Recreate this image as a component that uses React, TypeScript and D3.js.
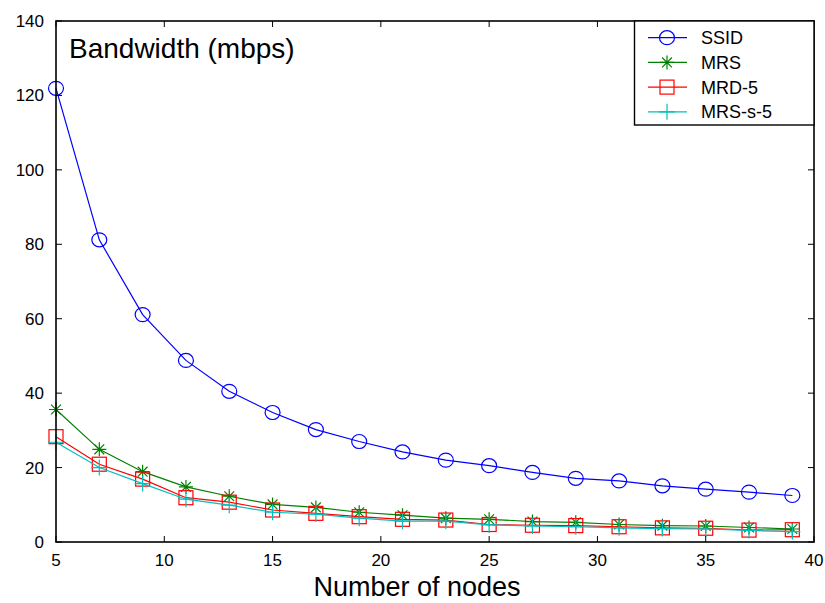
import React, { useEffect, useRef } from 'react';
import * as d3 from 'd3';

// Number of nodes (x values)
const nodes = [5, 7, 9, 11, 13, 15, 17, 19, 21, 23, 25, 27, 29, 31, 33, 35, 37, 39];

// Bandwidth values
const ssid = [121.9, 81.2, 61.1, 48.8, 40.5, 34.8, 30.2, 27.0, 24.2, 22.0, 20.5, 18.7, 17.1, 16.4, 15.1, 14.2, 13.4, 12.5];
const mrs = [35.6, 24.9, 18.9, 14.8, 12.3, 10.1, 9.3, 8.0, 7.2, 6.4, 6.1, 5.5, 5.3, 4.7, 4.4, 4.3, 3.9, 3.5];
const mrd5 = [28.3, 20.9, 16.9, 11.9, 10.7, 8.6, 7.7, 6.8, 6.1, 5.9, 4.7, 4.5, 4.4, 4.1, 3.8, 3.7, 3.2, 3.3];
const mrss5 = [26.8, 20.0, 15.7, 11.5, 9.9, 8.0, 7.5, 6.4, 5.6, 5.6, 4.6, 4.3, 4.1, 3.8, 3.6, 3.5, 3.1, 2.8];

const xTicks = [5, 10, 15, 20, 25, 30, 35, 40];
const yTicks = [0, 20, 40, 60, 80, 100, 120, 140];

const series = [
  { name: 'SSID', values: ssid, color: '#0000FF', marker: 'circle' },
  { name: 'MRS', values: mrs, color: '#008000', marker: 'star' },
  { name: 'MRD-5', values: mrd5, color: '#FF0000', marker: 'square' },
  { name: 'MRS-s-5', values: mrss5, color: '#00BFBF', marker: 'plus' },
];

const App = () => {
  const width = 825;
  const height = 603;
  const plot = { left: 56, right: 814, top: 21, bottom: 542 };
  const font = 'Arial, "Liberation Sans", Helvetica, sans-serif';

  const svgRef = useRef<SVGSVGElement>(null);

  useEffect(() => {
    const svg = d3.select(svgRef.current).attr('width', width).attr('height', height);
    svg.selectAll('*').remove();

    const x = d3.scaleLinear().domain([5, 40]).range([plot.left, plot.right]);
    const y = d3.scaleLinear().domain([0, 140]).range([plot.bottom, plot.top]);

    // draw a marker of a given kind at (cx, cy)
    const drawMarker = (g: any, kind: string, cx: number, cy: number, color: string) => {
      if (kind === 'circle') {
        g.append('ellipse')
          .attr('cx', cx).attr('cy', cy).attr('rx', 7.5).attr('ry', 7)
          .attr('fill', 'none').attr('stroke', color).attr('stroke-width', 1.2);
      } else if (kind === 'square') {
        g.append('rect')
          .attr('x', cx - 7).attr('y', cy - 7).attr('width', 14).attr('height', 14)
          .attr('fill', 'none').attr('stroke', color).attr('stroke-width', 1.2);
      } else if (kind === 'star') {
        const r = 7;
        const d = r * 0.7;
        const path = `M${cx - r},${cy}L${cx + r},${cy}M${cx},${cy - r}L${cx},${cy + r}` +
          `M${cx - d},${cy - d}L${cx + d},${cy + d}M${cx - d},${cy + d}L${cx + d},${cy - d}`;
        g.append('path').attr('d', path).attr('stroke', color).attr('stroke-width', 1.2).attr('fill', 'none');
      } else if (kind === 'plus') {
        const r = 8;
        const path = `M${cx - r},${cy}L${cx + r},${cy}M${cx},${cy - r}L${cx},${cy + r}`;
        g.append('path').attr('d', path).attr('stroke', color).attr('stroke-width', 1.2).attr('fill', 'none');
      }
    };

    // series lines + markers
    const line = d3.line<number>().x((d, i) => x(nodes[i])).y((d) => y(d));
    series.forEach((s) => {
      const g = svg.append('g');
      g.append('path')
        .datum(s.values)
        .attr('d', line)
        .attr('fill', 'none')
        .attr('stroke', s.color)
        .attr('stroke-width', 1.2);
      s.values.forEach((v, i) => drawMarker(g, s.marker, x(nodes[i]), y(v), s.color));
    });

    // frame
    svg.append('rect')
      .attr('x', plot.left).attr('y', plot.top)
      .attr('width', plot.right - plot.left).attr('height', plot.bottom - plot.top)
      .attr('fill', 'none').attr('stroke', '#000').attr('stroke-width', 1.6);

    // ticks (inward, mirrored on all sides)
    const tickLen = 6;
    const ticks = svg.append('g').attr('stroke', '#000').attr('stroke-width', 1);
    xTicks.forEach((t) => {
      ticks.append('line').attr('x1', x(t)).attr('x2', x(t)).attr('y1', plot.bottom).attr('y2', plot.bottom - tickLen);
      ticks.append('line').attr('x1', x(t)).attr('x2', x(t)).attr('y1', plot.top).attr('y2', plot.top + tickLen);
    });
    yTicks.forEach((t) => {
      ticks.append('line').attr('x1', plot.left).attr('x2', plot.left + tickLen).attr('y1', y(t)).attr('y2', y(t));
      ticks.append('line').attr('x1', plot.right).attr('x2', plot.right - tickLen).attr('y1', y(t)).attr('y2', y(t));
    });

    // tick labels
    svg.append('g').selectAll('text').data(xTicks).enter().append('text')
      .attr('x', (d) => x(d)).attr('y', 566)
      .attr('text-anchor', 'middle')
      .style('font-family', font).style('font-size', '17px')
      .text((d) => d);
    svg.append('g').selectAll('text').data(yTicks).enter().append('text')
      .attr('x', 44).attr('y', (d) => y(d) + 6)
      .attr('text-anchor', 'end')
      .style('font-family', font).style('font-size', '17px')
      .text((d) => d);

    // axis title + chart label
    svg.append('text')
      .attr('x', 417).attr('y', 596)
      .attr('text-anchor', 'middle')
      .style('font-family', font).style('font-size', '27px')
      .text('Number of nodes');
    svg.append('text')
      .attr('x', 69).attr('y', 58)
      .style('font-family', font).style('font-size', '28px')
      .text('Bandwidth (mbps)');

    // legend
    const legend = svg.append('g');
    legend.append('rect')
      .attr('x', 634.5).attr('y', plot.top)
      .attr('width', plot.right - 634.5).attr('height', 104)
      .attr('fill', '#fff').attr('stroke', '#000').attr('stroke-width', 1.4);
    series.forEach((s, i) => {
      const ly = 37.7 + i * 24.7;
      legend.append('line')
        .attr('x1', 648).attr('x2', 687).attr('y1', ly).attr('y2', ly)
        .attr('stroke', s.color).attr('stroke-width', 1.2);
      drawMarker(legend, s.marker, 667, ly, s.color);
      legend.append('text')
        .attr('x', 701).attr('y', ly + 6.5)
        .style('font-family', font).style('font-size', '18px')
        .text(s.name);
    });
  }, []);

  return (
    <div>
      <svg ref={svgRef} style={{ position: 'absolute', left: 0, top: 0, background: '#fff' }}></svg>
    </div>
  );
};

export default App;
